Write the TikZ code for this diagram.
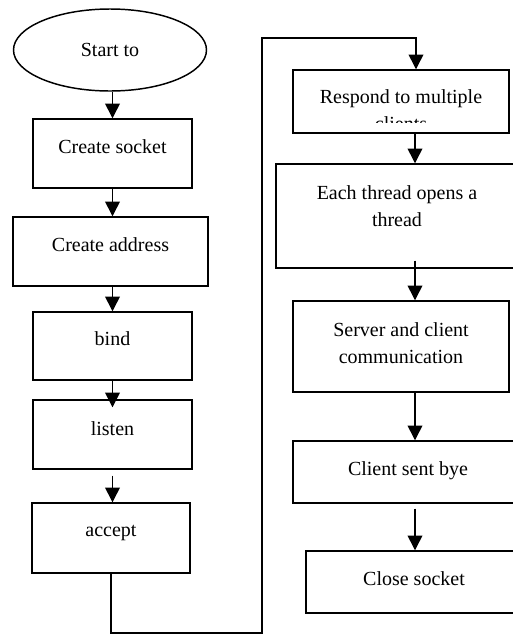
\documentclass[tikz,border=0pt]{standalone}
\usepackage{fontspec}
\setmainfont{Liberation Serif}
\usetikzlibrary{arrows.meta,shapes.geometric}
\begin{document}
\begin{tikzpicture}[x=0.75pt,y=-0.75pt,
  line/.style={line width=1.1pt,draw=black},
  arr/.style={line,-{Triangle[length=11pt,width=11pt]}},
  box/.style={line,rectangle,inner sep=0pt},
  txt/.style={inner sep=0pt,align=center,font=\fontsize{15}{20.25}\selectfont}]
\useasboundingbox (0,0) rectangle (513,644);
\clip (0,0) rectangle (513,644);
\fill[white] (0,0) rectangle (513,644);
% left column
\node[line,ellipse,minimum width=144.75pt,minimum height=61.5pt,inner sep=0pt] (start) at (110,50) {};
\node[txt] (tstart) at (110,50) {Start to};
\node[box,minimum width=119.25pt,minimum height=51.75pt] (cs) at (112.5,153.5) {};
\node[txt] (tcs) at (112.5,147) {Create socket};
\node[box,minimum width=146.25pt,minimum height=51.75pt] (ca) at (110.5,251.5) {};
\node[txt] (tca) at (110.5,245) {Create address};
\node[box,minimum width=119.25pt,minimum height=51pt] (bind) at (112.5,346) {};
\node[txt] (tbind) at (112.5,339) {bind};
\node[box,minimum width=119.25pt,minimum height=51.75pt] (listen) at (112.5,434.5) {};
\node[txt] (tlisten) at (112.5,429) {listen};
\node[box,minimum width=118.5pt,minimum height=52.5pt] (accept) at (111,538) {};
\node[txt] (taccept) at (111,533) {accept};
% right column
\node[box,minimum width=162pt,minimum height=47.25pt] (resp) at (401,101.5) {};
\begin{scope}
\clip (293,70) rectangle (509,122);
\node[txt,anchor=north] (tresp) at (401,89) {Respond to multiple\\clients};
\end{scope}
\node[box,minimum width=181.5pt,minimum height=78pt] (each) at (397,216) {};
\node[txt] (teach) at (397,206.5) {Each thread opens a\\thread};
\node[box,minimum width=162pt,minimum height=68.25pt] (serv) at (401,346.5) {};
\node[txt] (tserv) at (401,343.5) {Server and client\\communication};
\node[box,minimum width=172.5pt,minimum height=46.5pt] (bye) at (408,472) {};
\node[txt] (tbye) at (408,471) {Client sent bye};
\node[box,minimum width=162pt,minimum height=46.5pt] (close) at (414,582) {};
\node[txt] (tclose) at (414,579) {Close socket};
% connectors
\coordinate (lb) at (262,633);
\coordinate (lt) at (262,38);
\draw[arr] (start.south -| cs.north) -- (cs.north);
\draw[arr] (cs.south) -- (cs.south |- ca.north);
\draw[arr] (bind.north |- ca.south) -- (bind.north);
\draw[arr] (bind.south) -- ([yshift=-6pt]listen.north);
\draw[arr] ([yshift=-4.5pt]listen.south) -- (listen.south |- accept.north);
\draw[arr] (accept.south) |- (lb) -- (lt) -| ([xshift=11.25pt]resp.north);
\draw[arr] ([xshift=10.5pt]resp.south) -- ([xshift=10.5pt]resp.south |- each.north);
\draw[arr] ([xshift=13.5pt,yshift=6pt]each.south) -- ([xshift=10.5pt]serv.north);
\draw[arr] ([xshift=10.5pt]serv.south) -- ([xshift=10.5pt]serv.south |- bye.north);
\draw[arr] ([xshift=5.25pt,yshift=-3.75pt]bye.south) -- ([xshift=5.25pt]bye.south |- close.north);
\end{tikzpicture}
\end{document}
